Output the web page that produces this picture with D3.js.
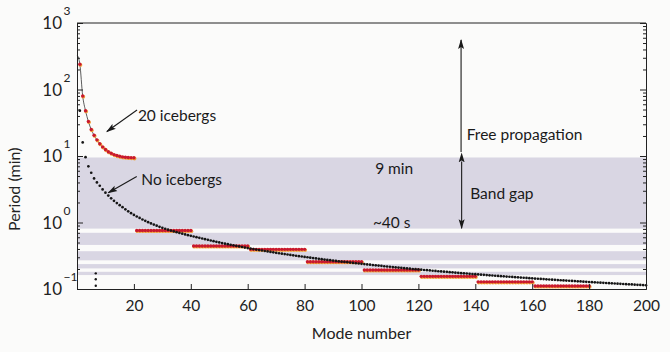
<!DOCTYPE html>
<html>
<head>
<meta charset="utf-8">
<script src="https://cdn.jsdelivr.net/npm/d3@7"></script>
<style>
    body { margin: 0; background: #fbfbfa; }
    svg { font-family: Lato, "Open Sans", sans-serif; }
</style>
</head>
<body>
<div id="chart"></div>
<script>
// Periods (min)
const noIcebergPeriods = [
    48, 16, 9.6, 7.0, 5.6, 4.6, 4.0, 3.57, 3.14, 2.81,
    2.54, 2.31, 2.12, 1.96, 1.82, 1.70, 1.58, 1.47, 1.38, 1.30,
    1.23, 1.17, 1.11, 1.06, 1.01, 0.970, 0.930, 0.895, 0.862, 0.832,
    0.805, 0.780, 0.757, 0.735, 0.715, 0.696, 0.678, 0.661, 0.645, 0.630,
    0.616, 0.602, 0.588, 0.575, 0.562, 0.549, 0.536, 0.524, 0.513, 0.502,
    0.491, 0.481, 0.472, 0.462, 0.453, 0.445, 0.436, 0.428, 0.420, 0.413,
    0.406, 0.399, 0.392, 0.385, 0.379, 0.373, 0.367, 0.361, 0.356, 0.350,
    0.345, 0.340, 0.335, 0.330, 0.325, 0.321, 0.316, 0.312, 0.308, 0.304,
    0.300, 0.296, 0.292, 0.288, 0.284, 0.281, 0.277, 0.274, 0.271, 0.268,
    0.264, 0.261, 0.258, 0.255, 0.253, 0.250, 0.247, 0.244, 0.242, 0.239,
    0.237, 0.234, 0.232, 0.229, 0.227, 0.225, 0.223, 0.220, 0.218, 0.216,
    0.214, 0.212, 0.210, 0.208, 0.206, 0.204, 0.202, 0.200, 0.199, 0.197,
    0.195, 0.193, 0.192, 0.190, 0.188, 0.187, 0.185, 0.184, 0.182, 0.181,
    0.179, 0.178, 0.176, 0.175, 0.173, 0.172, 0.171, 0.169, 0.168, 0.167,
    0.1655, 0.1643, 0.1631, 0.1619, 0.1607, 0.1595, 0.1583, 0.1572, 0.1560, 0.1549,
    0.1538, 0.1528, 0.1517, 0.1506, 0.1496, 0.1486, 0.1476, 0.1465, 0.1455, 0.1446,
    0.1436, 0.1427, 0.1417, 0.1408, 0.1399, 0.1390, 0.1381, 0.1373, 0.1364, 0.1355,
    0.1347, 0.1338, 0.1330, 0.1322, 0.1314, 0.1306, 0.1298, 0.1290, 0.1282, 0.1274,
    0.1267, 0.1259, 0.1252, 0.1245, 0.1238, 0.1231, 0.1224, 0.1216, 0.1210, 0.1203,
    0.1196, 0.1190, 0.1183, 0.1176, 0.1170, 0.1163, 0.1157, 0.1151, 0.1145, 0.1139
];

// 20 icebergs: modes 1-20 below the gap
const icebergPeriods = [240, 80, 48, 33, 25, 20.5, 17.5, 15.3, 13.7, 12.5,
                        11.6, 11.0, 10.5, 10.15, 9.9, 9.7, 9.6, 9.5, 9.45, 9.4];

// 20 icebergs: flat bands of 20 modes each
const bandStartModes = [21, 41, 61, 81, 101, 121, 141, 161];
const bandPeriods = [0.758, 0.443, 0.395, 0.257, 0.193, 0.155, 0.128, 0.111];

// the few dots at the bottom left
const strayMode = 6.6;
const strayPeriods = [0.172, 0.140, 0.112];

// shaded gaps (top period, bottom period)
const gapTops = [9.5, 0.70, 0.37, 0.237, 0.1815];
const gapBottoms = [0.81, 0.46, 0.27, 0.204, 0.162];

const xTicks = [20, 40, 60, 80, 100, 120, 140, 160, 180, 200];
const yDecades = [-1, 0, 1, 2, 3];

function createChart() {
    const width = 670, height = 352;
    const margin = { top: 23, right: 24, bottom: 63, left: 77 };

    const svg = d3.select('#chart')
        .append('svg')
        .attr('width', width)
        .attr('height', height);

    const x = d3.scaleLinear().domain([0, 200]).range([margin.left, width - margin.right]);
    const y = d3.scaleLog().domain([0.1, 1000]).range([height - margin.bottom, margin.top]);

    // arrow heads
    const defs = svg.append('defs');
    ['end', 'start'].forEach(kind => {
        defs.append('marker')
            .attr('id', 'arrow-' + kind)
            .attr('markerUnits', 'userSpaceOnUse')
            .attr('markerWidth', 10).attr('markerHeight', 7)
            .attr('refX', kind === 'end' ? 9 : 1).attr('refY', 3.5)
            .attr('orient', kind === 'end' ? 'auto' : 'auto-start-reverse')
            .append('path')
            .attr('d', 'M0,0.5 L10,3.5 L0,6.5 L2,3.5 Z')
            .attr('fill', '#1a1a1a');
    });

    // band gaps
    svg.append('g').selectAll('rect')
        .data(gapTops.map((t, i) => ({ top: t, bottom: gapBottoms[i] })))
        .enter()
        .append('rect')
        .attr('x', x(0))
        .attr('width', x(200) - x(0))
        .attr('y', d => y(d.top))
        .attr('height', d => y(d.bottom) - y(d.top))
        .attr('fill', '#d9d6e3');

    // 20 icebergs line + dots
    const icebergs = icebergPeriods.map((p, i) => ({ mode: i + 1, period: p }));
    svg.append('path')
        .datum([{ mode: 0.05, period: 330 }].concat(icebergs))
        .attr('fill', 'none')
        .attr('stroke', '#333')
        .attr('stroke-width', 0.8)
        .attr('d', d3.line().x(d => x(d.mode)).y(d => y(d.period)).curve(d3.curveMonotoneX));

    const bands = [];
    bandStartModes.forEach((m0, i) => {
        for (let m = m0; m < m0 + 20; m++) bands.push({ mode: m, period: bandPeriods[i] });
    });

    // black dots, no icebergs
    const noIcebergs = noIcebergPeriods.map((p, i) => ({ mode: i + 1, period: p }));

    // red bands first, black curve over them
    const redDots = icebergs.concat(bands);
    svg.append('g').selectAll('circle')
        .data(redDots)
        .enter()
        .append('circle')
        .attr('cx', d => x(d.mode) + 0.6)
        .attr('cy', d => y(d.period) + 0.7)
        .attr('r', 1.9)
        .attr('fill', '#f2a23a');
    svg.append('g').selectAll('circle')
        .data(redDots)
        .enter()
        .append('circle')
        .attr('cx', d => x(d.mode))
        .attr('cy', d => y(d.period))
        .attr('r', 1.7)
        .attr('fill', '#c8182f');

    svg.append('g').selectAll('circle')
        .data(noIcebergs)
        .enter()
        .append('circle')
        .attr('cx', d => x(d.mode))
        .attr('cy', d => y(d.period))
        .attr('r', 1.35)
        .attr('fill', '#151515');

    svg.append('g').selectAll('circle')
        .data(strayPeriods)
        .enter()
        .append('circle')
        .attr('cx', x(strayMode))
        .attr('cy', d => y(d))
        .attr('r', 1.2)
        .attr('fill', '#151515');

    // axes
    const minorTicks = [];
    [-1, 0, 1, 2].forEach(e => {
        for (let k = 2; k <= 9; k++) minorTicks.push(k * Math.pow(10, e));
    });
    const majorTicks = yDecades.map(e => Math.pow(10, e));

    const axisColor = '#222';
    function styleAxis(g) {
        g.selectAll('path, line').attr('stroke', axisColor).attr('stroke-width', 1);
        g.selectAll('text').remove();
    }

    svg.append('g')
        .attr('transform', `translate(${x(0)},0)`)
        .call(d3.axisLeft(y).tickValues(majorTicks).tickSize(-6).tickSizeOuter(0))
        .call(styleAxis);
    svg.append('g')
        .attr('transform', `translate(${x(0)},0)`)
        .call(d3.axisLeft(y).tickValues(minorTicks).tickSize(-3).tickSizeOuter(0))
        .call(styleAxis);
    svg.append('g')
        .attr('transform', `translate(${x(200)},0)`)
        .call(d3.axisRight(y).tickValues(majorTicks).tickSize(-6).tickSizeOuter(0))
        .call(styleAxis);
    svg.append('g')
        .attr('transform', `translate(${x(200)},0)`)
        .call(d3.axisRight(y).tickValues(minorTicks).tickSize(-3).tickSizeOuter(0))
        .call(styleAxis);

    const xAxis = svg.append('g')
        .attr('transform', `translate(0,${y(0.1)})`)
        .call(d3.axisBottom(x).tickValues(xTicks).tickSize(-5).tickSizeOuter(0).tickPadding(11));
    xAxis.selectAll('path, line').attr('stroke', axisColor);
    xAxis.selectAll('text')
        .attr('font-family', 'Lato, sans-serif')
        .attr('font-size', 15.5)
        .attr('fill', '#222');

    svg.append('line')
        .attr('x1', x(0)).attr('x2', x(200))
        .attr('y1', y(1000)).attr('y2', y(1000))
        .attr('stroke', axisColor);

    // y tick labels, 10 with superscript
    const yLabels = svg.append('g').attr('fill', '#222');
    yDecades.forEach(e => {
        yLabels.append('text')
            .attr('x', x(0) - 15)
            .attr('y', y(Math.pow(10, e)))
            .attr('dy', '0.36em')
            .attr('text-anchor', 'end')
            .attr('font-size', 17)
            .text('10');
        yLabels.append('text')
            .attr('x', x(0) - 13.5)
            .attr('y', y(Math.pow(10, e)) - 8)
            .attr('font-size', 12)
            .text(e < 0 ? '\u2212' + (-e) : e);
    });

    // axis titles
    svg.append('text')
        .attr('x', (x(0) + x(200)) / 2)
        .attr('y', height - 13)
        .attr('text-anchor', 'middle')
        .attr('font-size', 16)
        .attr('fill', '#222')
        .text('Mode number');

    svg.append('text')
        .attr('transform', `translate(20,${y(Math.sqrt(10))}) rotate(-90)`)
        .attr('text-anchor', 'middle')
        .attr('font-size', 16)
        .attr('fill', '#222')
        .text('Period (min)');

    // annotations
    const notes = [
        { text: '20 icebergs', mode: 21.4, period: 41.4 },
        { text: 'No icebergs', mode: 22.6, period: 4.5 },
        { text: 'Free propagation', mode: 137, period: 21.4 },
        { text: '9 min', mode: 104.8, period: 6.4 },
        { text: '~40 s', mode: 104, period: 1.02 },
        { text: 'Band gap', mode: 138.2, period: 2.73 }
    ];
    svg.append('g').selectAll('text')
        .data(notes)
        .enter()
        .append('text')
        .attr('x', d => x(d.mode))
        .attr('y', d => y(d.period))
        .attr('dy', '0.36em')
        .attr('font-size', 15.5)
        .attr('fill', '#1a1a1a')
        .text(d => d.text);

    const arrows = [
        { from: [21.1, 49.2], to: [10.5, 23.3], both: false },
        { from: [21, 4.92], to: [11, 2.8], both: false },
        { from: [135, 11.5], to: [135, 555], both: false },
        { from: [135.2, 8.3], to: [135.2, 0.82], both: true }
    ];
    svg.append('g').selectAll('line')
        .data(arrows)
        .enter()
        .append('line')
        .attr('x1', d => x(d.from[0]))
        .attr('y1', d => y(d.from[1]))
        .attr('x2', d => x(d.to[0]))
        .attr('y2', d => y(d.to[1]))
        .attr('stroke', '#1a1a1a')
        .attr('stroke-width', 1.1)
        .attr('marker-end', 'url(#arrow-end)')
        .attr('marker-start', d => d.both ? 'url(#arrow-start)' : null);
}

createChart();
</script>
</body>
</html>
